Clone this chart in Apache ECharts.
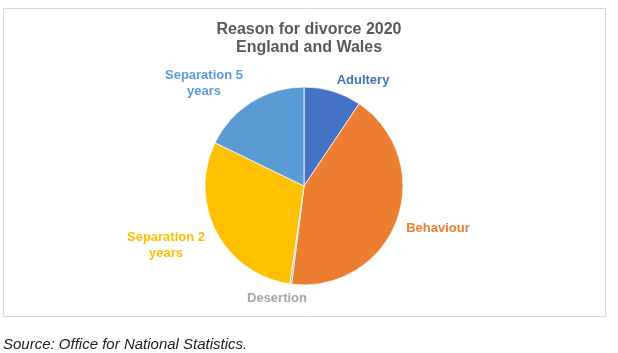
<!DOCTYPE html>
<html>
<head>
<meta charset="utf-8">
<title>Reason for divorce 2020</title>
<script src="https://cdn.jsdelivr.net/npm/echarts@6/dist/echarts.min.js"></script>
<style>
  html, body { margin: 0; padding: 0; background: #fff; }
  #chart { width: 618px; height: 353px; }
</style>
</head>
<body>
<div id="chart"></div>
<script>
// reasons and share of divorces (%)
const reasons = ["Adultery", "Behaviour", "Desertion", "Separation 2 years", "Separation 5 years"];
const labels = ["Adultery", "Behaviour", "Desertion", "Separation 2\nyears", "Separation 5\nyears"];
const shares = [9.4, 42.6, 0.3, 29.9, 17.8];
const colors = ["#4472C4", "#ED7D31", "#A5A5A5", "#FFC000", "#5B9BD5"];

// where excel put the data labels (label centres, px)
const labelAnchors = [[363, 80], [438, 228], [277, 298], [166, 245], [204, 83]];

const chart = echarts.init(document.getElementById("chart"));

chart.setOption({
  animation: false,
  title: [
    {
      text: "Reason for divorce 2020\nEngland and Wales",
      left: 304,
      textAlign: "center",
      top: 16,
      textStyle: {
        fontFamily: "Liberation Sans, Arial",
        fontSize: 16,
        fontWeight: "bold",
        color: "#595959",
        lineHeight: 18,
        align: "center"
      }
    },
    {
      text: "Source: Office for National Statistics.",
      left: -2,
      top: 332,
      textStyle: {
        fontFamily: "Liberation Sans, Arial",
        fontSize: 15,
        fontStyle: "italic",
        fontWeight: "normal",
        color: "#222"
      }
    }
  ],
  graphic: [
    {
      type: "rect",
      shape: { x: 3.5, y: 8.5, width: 602, height: 308 },
      style: { fill: "none", stroke: "#d9d9d9", lineWidth: 1 },
      z: -1
    }
  ],
  series: [
    {
      type: "pie",
      center: [304, 186],
      radius: 99,
      startAngle: 90,
      clockwise: true,
      avoidLabelOverlap: false,
      itemStyle: { borderColor: "#fff", borderWidth: 0.8 },
      label: {
        show: true,
        position: "outside",
        formatter: (p) => labels[p.dataIndex],
        fontFamily: "Liberation Sans, Arial",
        fontSize: 13,
        fontWeight: "bold",
        lineHeight: 16,
        align: "center"
      },
      labelLine: { show: false },
      labelLayout: (p) => ({
        x: labelAnchors[p.dataIndex][0],
        y: labelAnchors[p.dataIndex][1],
        align: "center",
        verticalAlign: "middle"
      }),
      emphasis: { disabled: true },
      data: reasons.map((r, i) => ({
        name: r,
        value: shares[i],
        itemStyle: { color: colors[i] },
        label: { color: colors[i] }
      }))
    }
  ]
});
</script>
</body>
</html>
